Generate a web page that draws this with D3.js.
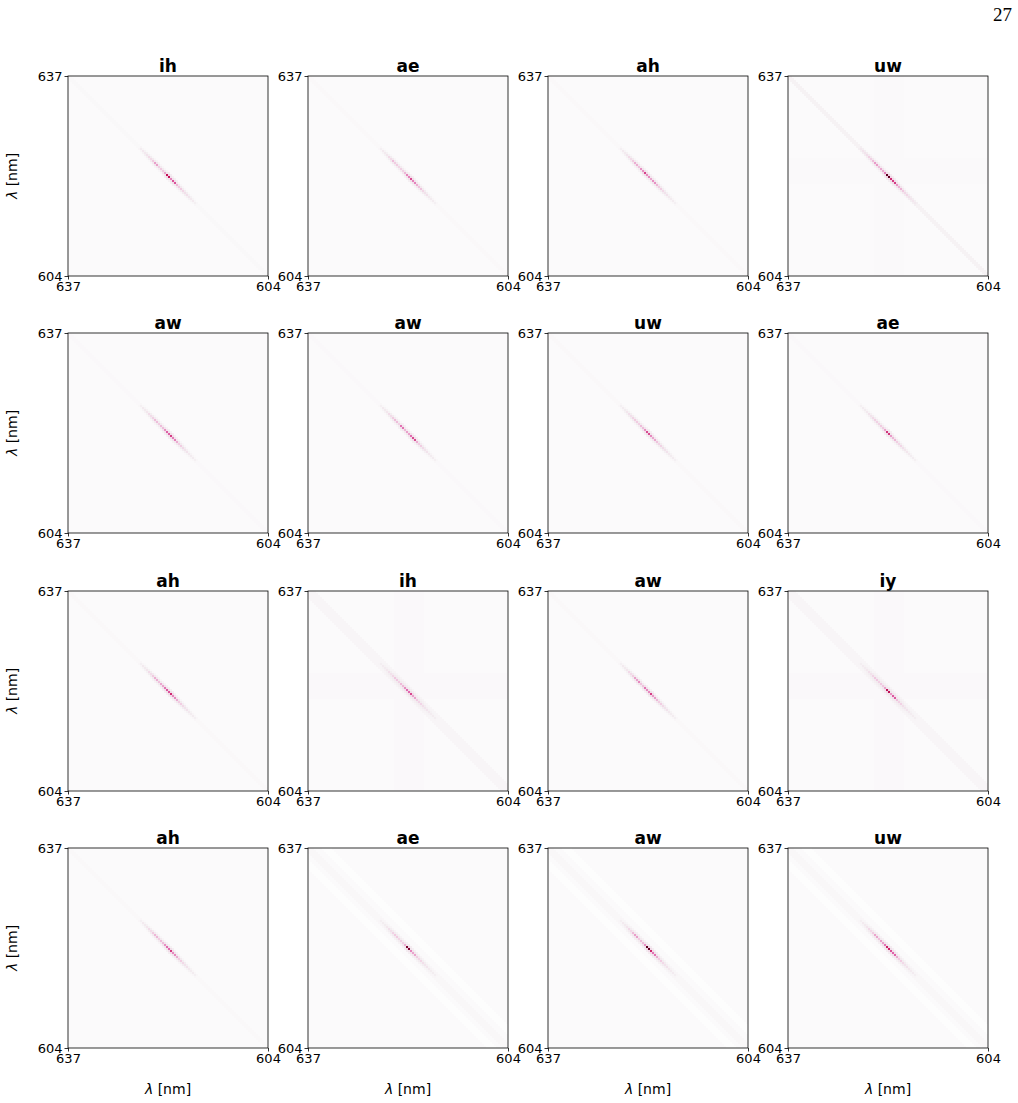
<!DOCTYPE html>
<html>
<head>
<meta charset="utf-8">
<script src="https://cdn.jsdelivr.net/npm/d3@7"></script>
<style>
  body { margin: 0; background: #ffffff; }
  svg { display: block; }
</style>
</head>
<body>
<svg id="chart" width="1018" height="1103"></svg>
<script>
// ---------------- data ----------------
const titles = ["ih","ae","ah","uw","aw","aw","uw","ae","ah","ih","aw","iy","ah","ae","aw","uw"];
const axisTicks = [637, 604];            // wavelength range [nm]
const tickLabels = ["637", "604"];
const nCells = 100;                      // heat-map resolution per axis
// diagonal profile sample positions [nm]
const profileNm = [625,624.5,624,623.5,623,622.5,622,621.5,621,620.5,620,619.5,619,618.5,618,617.5,617,616.5,616];
// peak intensity along the diagonal, per panel (0..1)
const profiles = [
  [.03,.06,.10,.15,.25,.40,.22,.25,.38,.85,.50,.65,.32,.25,.18,.12,.08,.05,.02],
  [.02,.05,.08,.15,.30,.25,.18,.22,.32,.50,.68,.50,.35,.28,.18,.11,.06,.04,.02],
  [.02,.05,.09,.15,.25,.35,.28,.45,.70,.48,.38,.45,.32,.24,.16,.10,.06,.04,.02],
  [.04,.08,.12,.20,.28,.40,.28,.35,.50,1.0,.75,.70,.42,.32,.24,.16,.10,.06,.04],
  [.02,.05,.08,.14,.22,.30,.24,.30,.45,.62,.72,.52,.36,.24,.16,.10,.06,.04,.02],
  [.02,.05,.08,.14,.25,.30,.22,.55,.32,.40,.58,.68,.36,.24,.16,.10,.06,.04,.02],
  [.02,.04,.08,.12,.20,.25,.22,.30,.45,.68,.48,.38,.28,.20,.14,.10,.06,.04,.02],
  [.02,.04,.06,.10,.16,.22,.20,.25,.38,.75,.42,.32,.24,.18,.12,.08,.05,.03,.02],
  [.02,.05,.08,.14,.25,.35,.28,.38,.55,.65,.78,.48,.36,.24,.16,.10,.06,.04,.02],
  [.02,.04,.06,.10,.16,.25,.20,.30,.45,.58,.68,.38,.24,.18,.12,.08,.05,.03,.02],
  [.02,.05,.08,.16,.24,.40,.48,.28,.55,.48,.72,.42,.32,.24,.16,.10,.06,.04,.02],
  [.02,.04,.06,.10,.18,.25,.20,.25,.38,.85,.42,.62,.28,.20,.12,.08,.05,.03,.02],
  [.02,.05,.08,.14,.25,.32,.24,.30,.45,.58,.72,.48,.36,.24,.16,.10,.06,.04,.02],
  [.02,.03,.06,.11,.20,.25,.18,.22,.34,.95,.48,.38,.24,.18,.12,.08,.05,.03,.02],
  [.02,.05,.08,.16,.30,.40,.24,.30,.45,1.0,.78,.55,.36,.24,.16,.10,.06,.04,.02],
  [.02,.05,.08,.16,.24,.38,.28,.40,.55,.80,.65,.60,.36,.24,.16,.10,.06,.04,.02]
];
// faint full-length diagonal band: intensity and half width (cells)
const tailLevel = [0.006,0.005,0.005,0.02, 0.004,0.004,0.005,0.004, 0.005,0.012,0.005,0.012, 0.005,0.008,0.008,0.008];
const tailHalfWidth = [1,1,1,1, 1,1,1,1, 1,3,1,3, 1,2,2,2];
// faint cross pattern around the centre
const crossLevel = [0,0,0,0.002, 0,0,0,0, 0,0.004,0,0.004, 0,0,0,0];
// lighter stripes parallel to the diagonal
const stripeLevel = [0,0,0,0, 0,0,0,0, 0,0,0,0, 0,-0.012,-0.012,-0.012];
const streakFalloff = [1, 0.2, 0.04];

// ---------------- layout ----------------
const colX = [68, 308, 548, 788];
const rowY = [76, 333, 591, 848];
const size = 200;

const svg = d3.select("#chart");

const color = d3.scaleLinear()
  .domain([-0.02, 0, 0.03, 0.25, 0.6, 0.85, 1])
  .range(["#ffffff", "#fbfafb", "#f3eef1", "#f1cce2", "#e066ad", "#c8135a", "#5e0020"])
  .clamp(true);

const x = d3.scaleLinear().domain(axisTicks).range([0, size]);
const y = d3.scaleLinear().domain([axisTicks[1], axisTicks[0]]).range([size, 0]);
const step = (axisTicks[0] - axisTicks[1]) / nCells;
const cellNm = d3.range(nCells).map(i => axisTicks[0] - i * step); // left/top edge of each cell

function profileAt(p, nm) {
  if (nm > profileNm[0] + 0.25 || nm < profileNm[profileNm.length - 1] - 0.25) return 0;
  const k = d3.minIndex(profileNm, v => Math.abs(v - nm));
  return profiles[p][k];
}

function cellsFor(p) {
  const out = [];
  for (let i = 0; i < nCells; i++) {
    for (let j = 0; j < nCells; j++) {
      const d = i - j;
      let v = 0;
      if (Math.abs(d) <= tailHalfWidth[p]) v += tailLevel[p];
      if (Math.abs(d) <= 2) {
        const nmC = axisTicks[0] - ((i + j) / 2 + 0.5) * step;
        v += profileAt(p, nmC) * streakFalloff[Math.abs(d)];
      }
      if (crossLevel[p] && ((i >= 43 && i <= 57) || (j >= 41 && j <= 53))) v += crossLevel[p];
      if (stripeLevel[p] && (Math.abs(d - 9) <= 2 || Math.abs(d + 8) <= 2)) v += stripeLevel[p];
      if (v !== 0) out.push({ i, j, v });
    }
  }
  return out;
}

const sans = "'DejaVu Sans', sans-serif";

titles.forEach((t, p) => {
  const r = Math.floor(p / 4), c = p % 4;
  const g = svg.append("g").attr("transform", `translate(${colX[c]},${rowY[r]})`);

  g.append("rect").attr("width", size).attr("height", size).attr("fill", color(0));

  const cw = x(cellNm[1]) - x(cellNm[0]);
  g.append("g").selectAll("rect").data(cellsFor(p)).join("rect")
    .attr("x", d => x(cellNm[d.i]))
    .attr("y", d => y(cellNm[d.j]))
    .attr("width", cw + 0.05)
    .attr("height", cw + 0.05)
    .attr("fill", d => color(d.v));

  // frame
  g.append("rect").attr("width", size).attr("height", size)
    .attr("fill", "none").attr("stroke", "#000").attr("stroke-width", 0.8);

  // axes
  const xa = d3.axisBottom(x).tickValues(axisTicks).tickFormat((d, k) => tickLabels[k]).tickSizeOuter(0).tickSize(3.5).tickPadding(2);
  const ya = d3.axisLeft(y).tickValues(axisTicks).tickFormat((d, k) => tickLabels[k]).tickSizeOuter(0).tickSize(3.5).tickPadding(2);
  const gx = g.append("g").attr("transform", `translate(0,${size})`).call(xa);
  const gy = g.append("g").call(ya);
  [gx, gy].forEach(a => {
    a.select(".domain").remove();
    a.selectAll("line").attr("stroke", "#000").attr("stroke-width", 0.8);
    a.selectAll("text").style("font-family", sans).style("font-size", "13px").attr("fill", "#000");
  });

  // title
  g.append("text").attr("x", size / 2).attr("y", -4).attr("text-anchor", "middle")
    .style("font-family", sans).style("font-size", "17px").style("font-weight", "bold").text(t);

  // y label
  if (c === 0) {
    const yl = g.append("text").attr("transform", `translate(-51,${size / 2}) rotate(-90)`)
      .attr("text-anchor", "middle").style("font-family", sans).style("font-size", "14px");
    yl.append("tspan").style("font-style", "italic").text("λ");
    yl.append("tspan").text(" [nm]");
  }
  // x label
  if (r === 3) {
    const xl = g.append("text").attr("x", size / 2).attr("y", size + 46)
      .attr("text-anchor", "middle").style("font-family", sans).style("font-size", "14px");
    xl.append("tspan").style("font-style", "italic").text("λ");
    xl.append("tspan").text(" [nm]");
  }
});

// page number
svg.append("text").attr("x", 1012).attr("y", 21).attr("text-anchor", "end")
  .style("font-family", "'Liberation Serif', serif").style("font-size", "19px").text("27");
</script>
</body>
</html>
